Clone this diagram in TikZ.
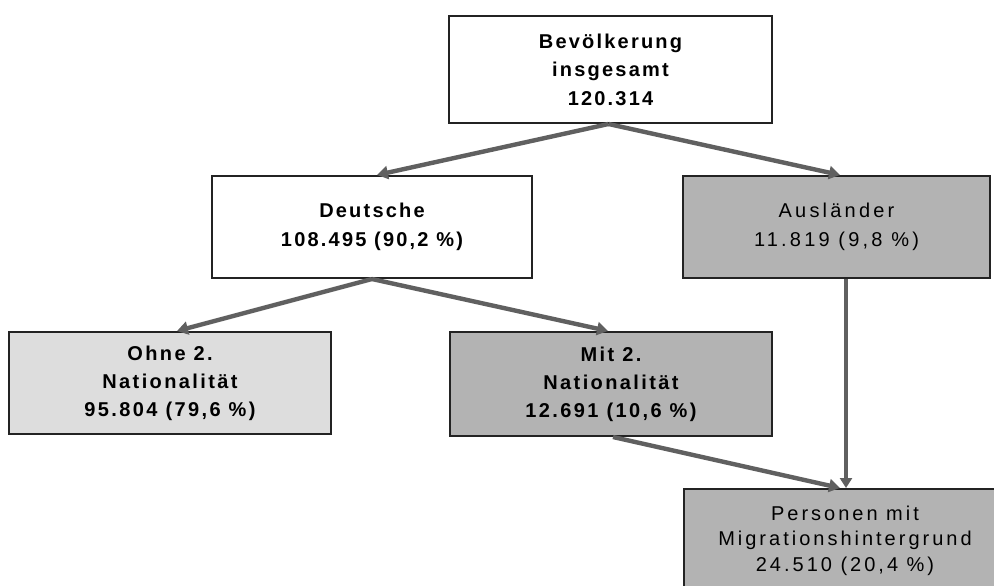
\documentclass[tikz,border=0pt]{standalone}
\usepackage{fontspec}
\setmainfont{Liberation Sans}
\usetikzlibrary{arrows.meta}
\definecolor{boxgray}{RGB}{179,179,179}
\definecolor{lightbox}{RGB}{221,221,221}
\definecolor{arrowgray}{RGB}{96,96,96}
\definecolor{edgecol}{RGB}{35,35,35}
\begin{document}
\begin{tikzpicture}[x=1pt,y=-1pt,
  box/.style={draw=edgecol, line width=2pt, rectangle, align=center, inner sep=0pt, text=black},
  boldtxt/.style={font=\fontsize{20}{28.5}\selectfont\bfseries\addfontfeature{LetterSpace=11}},
  regtxt/.style={font=\fontsize{20}{29}\selectfont\addfontfeature{LetterSpace=16}},
  perstxt/.style={font=\fontsize{20}{25.5}\selectfont\addfontfeature{LetterSpace=15}},
  midtxt/.style={font=\fontsize{20}{28}\selectfont\bfseries\addfontfeature{LetterSpace=12}},
  conn/.style={draw=arrowgray, line width=4.4pt, -{Triangle[length=11pt,width=13pt]}}]
\fill[white] (0,0) rectangle (994,586);
\clip (0,0) rectangle (994,586);
\useasboundingbox (0,0) rectangle (994,586);

\node[box, boldtxt, fill=white, minimum width=323, minimum height=107] (top) at (610.5,69.5)
  {Bevölkerung\\insgesamt\\120.314};
\node[box, boldtxt, fill=white, minimum width=320, minimum height=102] (deut) at (372,227)
  {Deutsche\\108.495 (90,2 \%)};
\node[box, regtxt, fill=boxgray, minimum width=307, minimum height=102] (ausl) at (836.5,227)
  {Ausländer\\11.819 (9,8 \%)};
\node[box, midtxt, fill=lightbox, minimum width=322, minimum height=102] (ohne) at (170,383)
  {Ohne 2.\\Nationalität\\95.804 (79,6 \%)};
\node[box, midtxt, fill=boxgray, minimum width=322, minimum height=104] (mit) at (611,384)
  {Mit 2.\\Nationalität\\12.691 (10,6 \%)};
\node[box, perstxt, fill=boxgray, minimum width=322, minimum height=103] (pers) at (845,540.5)
  {Personen mit\\Migrationshintergrund\\24.510 (20,4 \%)};

\draw[conn] ([xshift=-2pt]top.south) -- ([xshift=5pt]deut.north);
\draw[conn] ([xshift=-2pt]top.south) -- ([xshift=3.5pt]ausl.north);
\draw[conn] (deut.south) -- ([xshift=7pt]ohne.north);
\draw[conn] (deut.south) -- ([xshift=-3pt]mit.north);
\draw[conn] ([xshift=2pt]mit.south) -- ([xshift=-5pt]pers.north);
\coordinate (av) at ([xshift=9.5pt]ausl.south);
\draw[draw=arrowgray, line width=3.4pt, -{Triangle[length=10pt,width=12pt]}] (av) -- (av |- pers.north);
\end{tikzpicture}
\end{document}
